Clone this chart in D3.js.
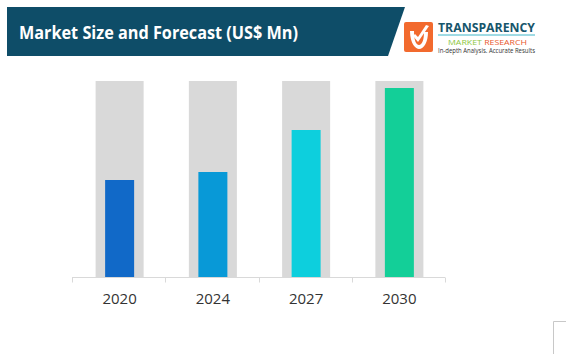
<!DOCTYPE html>
<html lang="en">
<head>
    <meta charset="UTF-8" />
    <title>Market Size and Forecast</title>
    <script src="https://d3js.org/d3.v7.min.js"></script>
    <style>
        body { margin: 0; background: #fff; }
        svg { display: block; font-family: "Open Sans", "Noto Sans", sans-serif; }
    </style>
</head>
<body>
    <script>
        var w = 566;
        var h = 354;

        // data (relative units)
        var years = ["2020", "2024", "2027", "2030"];
        var values = [97, 105, 147, 189];
        var maxValue = 196; // grey background bars
        var barColors = ["#1169c8", "#0899d7", "#0dcfdd", "#13cf98"];

        var svg = d3.select("body")
            .append("svg")
            .attr("width", w)
            .attr("height", h);

        // Header banner
        svg.append("path")
            .attr("d", "M7,7 L405,7 L388,56 L7,56 Z")
            .attr("fill", "#0e4d68");

        svg.append("text")
            .attr("x", 19)
            .attr("y", 39)
            .attr("fill", "#fff")
            .attr("font-size", 17)
            .attr("font-weight", "bold")
            .attr("textLength", 279)
            .attr("lengthAdjust", "spacingAndGlyphs")
            .text("Market Size and Forecast (US$ Mn)");

        // Logo
        var logo = svg.append("g");
        logo.append("rect")
            .attr("x", 404).attr("y", 22)
            .attr("width", 29).attr("height", 30)
            .attr("rx", 2)
            .attr("fill", "#f26a2e");
        logo.append("path")
            .attr("d", "M410,31 C410,44 416,49 419,49 C424,49 428,42 428,32 L424,32 C424,40 422,45 419,45 C416,45 414,40 414,31 Z")
            .attr("fill", "#fff");
        logo.append("path")
            .attr("d", "M413,36 L418,42 L429,26 L426,25 L418,37 L415,34 Z")
            .attr("fill", "#fff");

        logo.append("text")
            .attr("x", 438).attr("y", 32)
            .attr("fill", "#17566c")
            .attr("font-size", 12.5)
            .attr("font-weight", "bold")
            .attr("textLength", 97)
            .attr("lengthAdjust", "spacingAndGlyphs")
            .text("TRANSPARENCY");
        logo.append("line")
            .attr("x1", 438).attr("x2", 535)
            .attr("y1", 35).attr("y2", 35)
            .attr("stroke", "#3fb6c9")
            .attr("stroke-width", 1);
        var mr = logo.append("text")
            .attr("x", 448).attr("y", 44.5)
            .attr("font-size", 8)
            .attr("textLength", 79)
            .attr("lengthAdjust", "spacingAndGlyphs");
        mr.append("tspan").attr("fill", "#8cc63e").text("MARKET ");
        mr.append("tspan").attr("fill", "#e9572b").text("RESEARCH");
        logo.append("text")
            .attr("x", 438).attr("y", 52.5)
            .attr("fill", "#333")
            .attr("font-size", 6.5)
            .attr("textLength", 97)
            .attr("lengthAdjust", "spacingAndGlyphs")
            .text("In-depth Analysis. Accurate Results");

        // Scales
        var xScale = d3.scaleBand()
            .domain(years)
            .range([73, 446])
            .paddingInner(0.485)
            .paddingOuter(0.2425);

        var yScale = d3.scaleLinear()
            .domain([0, maxValue])
            .range([277, 81]);

        var barW = 29;

        // grey background bars
        svg.selectAll("rect.bg")
            .data(years)
            .enter()
            .append("rect")
            .attr("class", "bg")
            .attr("x", function(d) { return xScale(d); })
            .attr("y", yScale(maxValue))
            .attr("width", xScale.bandwidth())
            .attr("height", yScale(0) - yScale(maxValue))
            .attr("fill", "#d9d9d9");

        // value bars
        svg.selectAll("rect.val")
            .data(values)
            .enter()
            .append("rect")
            .attr("class", "val")
            .attr("x", function(d, i) {
                return xScale(years[i]) + (xScale.bandwidth() - barW) / 2;
            })
            .attr("y", function(d) { return yScale(d); })
            .attr("width", barW)
            .attr("height", function(d) { return yScale(0) - yScale(d); })
            .attr("fill", function(d, i) { return barColors[i]; });

        // x axis line with ticks between categories
        var axisY = yScale(0) + 0.5;
        svg.append("line")
            .attr("x1", 72).attr("x2", 445)
            .attr("y1", axisY).attr("y2", axisY)
            .attr("stroke", "#d9d9d9");

        var step = (445 - 72) / years.length;
        var tickX = d3.range(years.length + 1).map(function(i) {
            return 72 + i * step;
        });
        svg.selectAll("line.tick")
            .data(tickX)
            .enter()
            .append("line")
            .attr("class", "tick")
            .attr("x1", function(d) { return Math.round(d) + 0.5; })
            .attr("x2", function(d) { return Math.round(d) + 0.5; })
            .attr("y1", axisY)
            .attr("y2", axisY + 5)
            .attr("stroke", "#d9d9d9");

        svg.selectAll("text.year")
            .data(years)
            .enter()
            .append("text")
            .attr("class", "year")
            .attr("x", function(d) { return xScale(d) + xScale.bandwidth() / 2; })
            .attr("y", 304)
            .attr("text-anchor", "middle")
            .attr("font-size", 15)
            .attr("fill", "#333")
            .text(function(d) { return d; });

        // corner mark bottom right
        svg.append("path")
            .attr("d", "M553.5,354 L553.5,321.5 L566,321.5")
            .attr("fill", "none")
            .attr("stroke", "#c8c8c8");
    </script>
</body>
</html>
